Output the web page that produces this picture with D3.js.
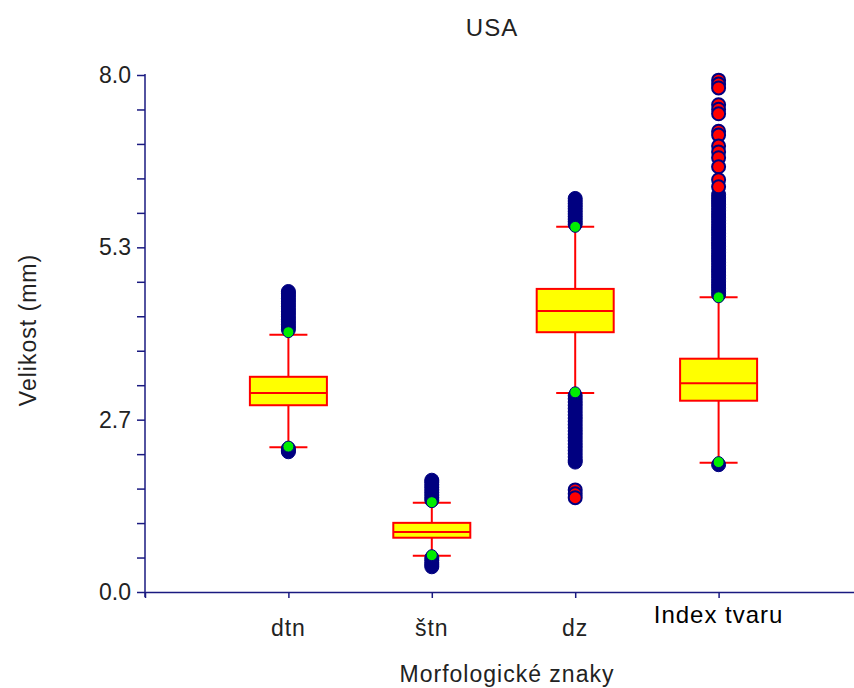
<!DOCTYPE html>
<html>
<head>
<meta charset="utf-8">
<script src="https://cdn.jsdelivr.net/npm/d3@7"></script>
<style>
  body { margin: 0; background: #fff; }
  text { font-family: 'Liberation Sans', Arial, sans-serif; }
</style>
</head>
<body>
<div id="chart"></div>
<script>
// ------------- Data ----------------- //
const categories = ['dtn', 'štn', 'dz', 'Index tvaru'];
const q1 = [2.89, 0.84, 4.02, 2.96];
const median = [3.08, 0.93, 4.35, 3.23];
const q3 = [3.33, 1.07, 4.69, 3.61];
const whiskerLow = [2.24, 0.56, 3.08, 2.0];
const whiskerHigh = [3.98, 1.38, 5.65, 4.56];
// green markers at the whisker ends
const markerLow = [2.25, 0.57, 3.09, 2.01];
const markerHigh = [4.02, 1.39, 5.65, 4.56];
// outliers (navy) and extremes (red)
const outliers = [
  [4.06, 4.1, 4.14, 4.18, 4.22, 4.26, 4.3, 4.34, 4.38, 4.42, 4.46, 4.5, 4.54, 4.58, 4.62, 4.65,
   2.22, 2.19, 2.17],
  [1.42, 1.46, 1.5, 1.54, 1.58, 1.62, 1.66, 1.7, 1.73,
   0.53, 0.49, 0.45, 0.42, 0.39],
  [5.69, 5.73, 5.77, 5.81, 5.85, 5.89, 5.93, 5.97, 6.01, 6.05, 6.09,
   3.04, 2.99, 2.94, 2.89, 2.84, 2.79, 2.74, 2.69, 2.64, 2.59, 2.54, 2.49, 2.44, 2.39, 2.34,
   2.29, 2.24, 2.19, 2.14, 2.09, 2.04, 2.01],
  [4.6, 4.65, 4.7, 4.75, 4.8, 4.85, 4.9, 4.95, 5.0, 5.05, 5.1, 5.15, 5.2, 5.25, 5.3, 5.35,
   5.4, 5.45, 5.5, 5.55, 5.6, 5.65, 5.7, 5.75, 5.8, 5.85, 5.9, 5.95, 6.0, 6.05, 6.1, 6.15,
   1.97]
];
const extremes = [
  [],
  [],
  [1.58, 1.52, 1.46],
  [7.92, 7.86, 7.8, 7.54, 7.47, 7.4, 7.13, 7.07, 6.9, 6.81, 6.72, 6.58, 6.38, 6.27]
];
const yTickLabels = ['0.0', '2.7', '5.3', '8.0'];

const title = 'USA';
const xTitle = 'Morfologické znaky';
const yTitle = 'Velikost (mm)';

// ------------- Layout ----------------- //
const W = 854, H = 688;
const axisColor = '#1a1a80';
const margin = { top: 75, left: 145, bottom: 96 };

const svg = d3.select('#chart')
  .append('svg')
  .attr('width', W)
  .attr('height', H);

const x = d3.scaleLinear().domain([0, 5]).range([margin.left, margin.left + 5 * 143.4]);
const y = d3.scaleLinear().domain([0, 8]).range([H - margin.bottom, margin.top]);

// y axis: 15 intervals, label every 5th tick
const yTicks = d3.range(16).map((i) => (i * 8) / 15);
const yAxis = d3.axisLeft(y)
  .tickValues(yTicks)
  .tickSize(8)
  .tickSizeOuter(0)
  .tickFormat((d, i) => (i % 5 === 0 ? yTickLabels[i / 5] : ''));

const gy = svg.append('g')
  .attr('transform', 'translate(' + margin.left + ',0)')
  .call(yAxis);
gy.select('.domain').attr('stroke', axisColor).attr('stroke-width', 1.5)
  .attr('d', 'M0,' + (y(8) - 1) + 'V' + (y(0) + 5));
gy.selectAll('.tick line').attr('stroke', axisColor).attr('stroke-width', 1.5);
gy.selectAll('.tick text')
  .attr('font-size', 23)
  .attr('fill', '#222')
  .attr('dx', -3)
  .style('font-family', "'Liberation Sans', Arial, sans-serif");

// x axis
const xAxis = d3.axisBottom(x)
  .tickValues([0, 1, 2, 3, 4])
  .tickSize(6)
  .tickSizeOuter(0)
  .tickFormat('');

const gx = svg.append('g')
  .attr('transform', 'translate(0,' + y(0) + ')')
  .call(xAxis);
gx.select('.domain').attr('stroke', axisColor).attr('stroke-width', 1.5);
gx.selectAll('.tick line').attr('stroke', axisColor).attr('stroke-width', 1.5);

// category labels
svg.selectAll('.cat-label')
  .data(categories)
  .enter()
  .append('text')
  .attr('class', 'cat-label')
  .attr('x', (d, i) => x(i + 1))
  .attr('y', (d, i) => (i === 3 ? 623 : 636))
  .attr('text-anchor', 'middle')
  .attr('font-size', (d, i) => (i === 3 ? 24 : 23))
  .attr('letter-spacing', 1)
  .attr('fill', (d, i) => (i === 3 ? '#000' : '#222'))
  .text((d) => d);

// ------------- Boxes ----------------- //
const boxHalf = 38.5;
const capHalf = 19;

categories.forEach(function (cat, i) {
  const cx = x(i + 1);
  const g = svg.append('g').attr('class', 'box');

  // whiskers
  g.append('line')
    .attr('x1', cx).attr('x2', cx)
    .attr('y1', y(whiskerLow[i])).attr('y2', y(whiskerHigh[i]))
    .attr('stroke', '#ff0000').attr('stroke-width', 2);
  [whiskerLow[i], whiskerHigh[i]].forEach((v) => {
    g.append('line')
      .attr('x1', cx - capHalf).attr('x2', cx + capHalf)
      .attr('y1', y(v)).attr('y2', y(v))
      .attr('stroke', '#ff0000').attr('stroke-width', 2);
  });

  // box
  g.append('rect')
    .attr('x', cx - boxHalf)
    .attr('y', y(q3[i]))
    .attr('width', boxHalf * 2)
    .attr('height', y(q1[i]) - y(q3[i]))
    .attr('fill', '#ffff00')
    .attr('stroke', '#ff0000')
    .attr('stroke-width', 2);
  g.append('line')
    .attr('x1', cx - boxHalf).attr('x2', cx + boxHalf)
    .attr('y1', y(median[i])).attr('y2', y(median[i]))
    .attr('stroke', '#ff0000').attr('stroke-width', 2);

  // outliers
  g.selectAll('.outlier')
    .data(outliers[i])
    .enter()
    .append('circle')
    .attr('class', 'outlier')
    .attr('cx', cx)
    .attr('cy', (d) => y(d))
    .attr('r', 7)
    .attr('fill', '#000080')
    .attr('stroke', '#000080')
    .attr('stroke-width', 1);

  g.selectAll('.extreme')
    .data(extremes[i])
    .enter()
    .append('circle')
    .attr('class', 'extreme')
    .attr('cx', cx)
    .attr('cy', (d) => y(d))
    .attr('r', 6.5)
    .attr('fill', '#ff0000')
    .attr('stroke', '#000080')
    .attr('stroke-width', 2);

  // markers
  [markerLow[i], markerHigh[i]].forEach((v) => {
    g.append('circle')
      .attr('cx', cx)
      .attr('cy', y(v))
      .attr('r', 5.5)
      .attr('fill', '#00ee00')
      .attr('stroke', '#000080')
      .attr('stroke-width', 1);
  });
});

// ------------- Titles ----------------- //
svg.append('text')
  .attr('x', 492)
  .attr('y', 36)
  .attr('text-anchor', 'middle')
  .attr('font-size', 24)
  .attr('letter-spacing', 1)
  .attr('fill', '#222')
  .text(title);

svg.append('text')
  .attr('x', 507)
  .attr('y', 682)
  .attr('text-anchor', 'middle')
  .attr('font-size', 23)
  .attr('letter-spacing', 1)
  .attr('fill', '#222')
  .text(xTitle);

svg.append('text')
  .attr('transform', 'translate(36,330) rotate(-90)')
  .attr('text-anchor', 'middle')
  .attr('font-size', 23)
  .attr('letter-spacing', 1)
  .attr('fill', '#222')
  .text(yTitle);
</script>
</body>
</html>
